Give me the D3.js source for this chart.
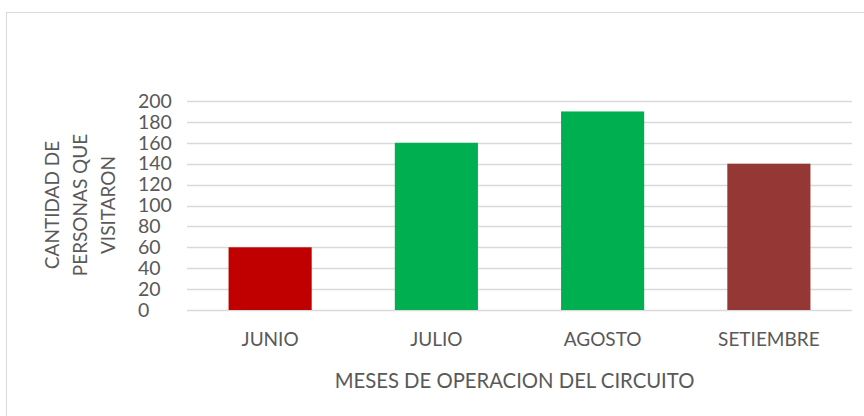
<!DOCTYPE html>
<html>

<head>
    <meta charset="UTF-8">
    <style>
        body { margin: 0; background: #fff; }
        text { font-family: Lato, "Open Sans", sans-serif; fill: #595959; }
    </style>
</head>

<body>
    <div id="chart"></div>

    <script src="https://d3js.org/d3.v7.min.js"></script>
    <script>

        // Data
        const months = ["JUNIO", "JULIO", "AGOSTO", "SETIEMBRE"];
        const visitors = [60, 160, 190, 140];
        const barColors = ["#c00000", "#00b050", "#00b050", "#953735"];
        const yTicks = [0, 20, 40, 60, 80, 100, 120, 140, 160, 180, 200];
        const yTitle = ["CANTIDAD DE", "PERSONAS QUE", "VISITARON"];
        const xTitle = "MESES DE OPERACION DEL CIRCUITO";

        const W = 864, H = 416;
        const margin = { top: 101, right: 12, bottom: 106, left: 187 },
            width = W - margin.left - margin.right,
            height = H - margin.top - margin.bottom;

        const root = d3.select("#chart")
            .append("svg")
            .attr("width", W)
            .attr("height", H);

        // Chart frame (runs off the right and bottom edge)
        root.append("rect")
            .attr("x", 6.5)
            .attr("y", 12.5)
            .attr("width", W)
            .attr("height", H)
            .attr("fill", "none")
            .attr("stroke", "#d9d9d9");

        const svg = root.append("g")
            .attr("transform", `translate(${margin.left}, ${margin.top})`);

        // Scales
        const x = d3.scaleBand()
            .domain(months)
            .range([0, width])
            .paddingInner(0.5)
            .paddingOuter(0.25);

        const y = d3.scaleLinear()
            .domain([0, 200])
            .range([height, 0]);

        // Gridlines
        svg.append("g")
            .selectAll("line")
            .data(yTicks)
            .join("line")
            .attr("x1", 0)
            .attr("x2", width)
            .attr("y1", d => Math.round(y(d)) + 0.5)
            .attr("y2", d => Math.round(y(d)) + 0.5)
            .attr("stroke", "#d9d9d9")
            .attr("stroke-width", 1.5);

        // Y axis labels - left aligned like the original
        const yAxis = svg.append("g")
            .call(d3.axisLeft(y).tickValues(yTicks).tickSize(0).tickPadding(0));
        yAxis.select(".domain").remove();
        yAxis.selectAll("text")
            .attr("x", -49)
            .attr("text-anchor", "start")
            .style("font-size", "19.5px")
            .style("font-family", "Lato, sans-serif")
            .attr("fill", "#595959");

        // Bars
        svg.selectAll("rect.bar")
            .data(months)
            .join("rect")
            .attr("class", "bar")
            .attr("x", d => x(d))
            .attr("y", (d, i) => y(visitors[i]))
            .attr("width", x.bandwidth())
            .attr("height", (d, i) => height - y(visitors[i]))
            .attr("fill", (d, i) => barColors[i]);

        // X axis labels
        const xAxis = svg.append("g")
            .attr("transform", `translate(0, ${height})`)
            .call(d3.axisBottom(x).tickSize(0).tickPadding(23));
        xAxis.select(".domain").remove();
        xAxis.selectAll("text")
            .style("font-size", "19px")
            .style("font-family", "Lato, sans-serif")
            .attr("fill", "#595959");

        // Axis titles
        svg.append("text")
            .attr("x", width / 2 - 5)
            .attr("y", height + 78)
            .attr("text-anchor", "middle")
            .style("font-size", "20.3px")
            .text(xTitle);

        const yt = root.append("text")
            .attr("transform", `translate(52, 205) rotate(-90)`)
            .attr("text-anchor", "middle")
            .style("font-size", "19px");
        yt.selectAll("tspan")
            .data(yTitle)
            .join("tspan")
            .attr("x", 0)
            .attr("dy", (d, i) => i === 0 ? "0.35em" : "28px")
            .text(d => d);

    </script>
</body>

</html>
